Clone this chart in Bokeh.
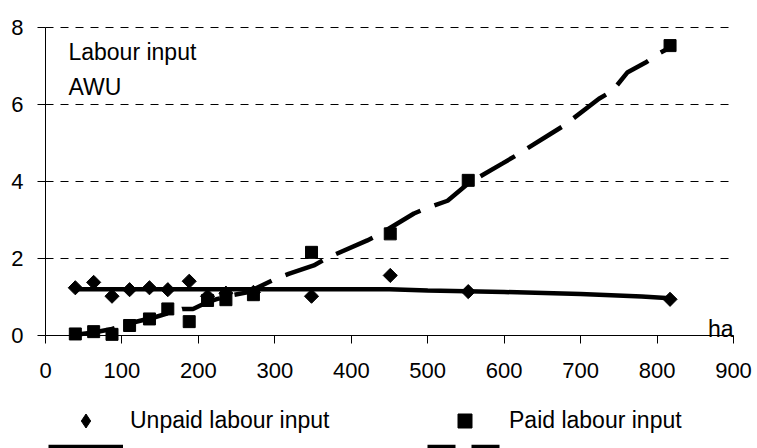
import math
from bokeh.plotting import figure
from bokeh.models import FixedTicker, Legend, LegendItem, Label, Range1d
from bokeh.embed import file_html
from bokeh.resources import INLINE

# ---- data ----
farm_size_ha = [39, 63, 87, 110, 136, 160, 188, 212, 236, 272, 348, 451, 553, 817]
unpaid_awu = [1.24, 1.38, 1.02, 1.19, 1.24, 1.19, 1.41, 1.02, 1.10, 1.12, 1.02, 1.56, 1.14, 0.94]
paid_awu = [0.04, 0.10, 0.03, 0.26, 0.43, 0.69, 0.36, 0.91, 0.93, 1.06, 2.16, 2.64, 4.03, 7.53]

unpaid_trend_x = [39, 150, 300, 450, 500, 600, 700, 780, 817]
unpaid_trend_y = [1.20, 1.20, 1.20, 1.20, 1.17, 1.13, 1.08, 1.01, 0.97]

paid_trend_x = [39, 63, 87, 107, 144, 179, 193, 212, 225, 245, 264, 301, 318, 351, 370, 421,
                438, 482, 500, 526, 553, 598, 615, 661, 678, 724, 742, 761, 785, 802, 817]
paid_trend_y = [0.02, 0.08, 0.17, 0.30, 0.48, 0.69, 0.69, 0.87, 0.95, 1.05, 1.12, 1.47, 1.60, 1.82,
                2.03, 2.47, 2.64, 3.17, 3.32, 3.50, 3.95, 4.47, 4.67, 5.24, 5.45, 6.15, 6.36, 6.83,
                7.09, 7.32, 7.48]

x_ticks = [0, 100, 200, 300, 400, 500, 600, 700, 800, 900]
y_ticks = [0, 2, 4, 6, 8]

FONT = "Liberation Sans"

# Scale: 0..900 ha over 688 px, 0..8 AWU over 308 px. The frame fills the whole
# canvas so that tick labels and the legend (below the axis) are not clipped;
# the axes are pinned at x = 0 / y = 0 and bounded to the data area.
PX_X = 688 / 900
PX_Y = 308 / 8
W, H = 753, 448
LEFT, TOP, BOTTOM = 45, 27, 335

p = figure(width=W, height=H, output_backend="svg", toolbar_location=None,
           x_range=Range1d(x_ticks[0] - LEFT / PX_X, x_ticks[-1] + (W - LEFT - 688) / PX_X),
           y_range=Range1d(y_ticks[0] - (H - BOTTOM) / PX_Y, y_ticks[-1] + TOP / PX_Y),
           min_border_left=0, min_border_right=0, min_border_top=0, min_border_bottom=0)
p.outline_line_color = None
p.background_fill_color = "white"
p.border_fill_color = "white"

for ax in (p.xaxis[0], p.yaxis[0]):
    ax.axis_line_color = "black"
    ax.axis_line_width = 1
    ax.major_tick_line_color = "black"
    ax.major_tick_out = 8
    ax.major_tick_in = 0
    ax.minor_tick_line_color = None
    ax.major_label_text_font = FONT
    ax.major_label_text_font_size = "22px"
    ax.major_label_text_color = "black"
p.xaxis.ticker = FixedTicker(ticks=x_ticks)
p.yaxis.ticker = FixedTicker(ticks=y_ticks)
p.xaxis.fixed_location = y_ticks[0]
p.yaxis.fixed_location = x_ticks[0]
p.xaxis.bounds = (x_ticks[0], x_ticks[-1])
p.yaxis.bounds = (y_ticks[0], y_ticks[-1])
p.xaxis.major_label_standoff = 19
p.yaxis.major_label_standoff = 14

p.xgrid.visible = False
p.ygrid.visible = False
# dashed horizontal gridlines over the data area only
grid_y = y_ticks[1:]
p.segment(x0=[x_ticks[0]] * len(grid_y), x1=[x_ticks[-1]] * len(grid_y), y0=grid_y, y1=grid_y,
          line_color="black", line_width=1, line_dash="8 7")

# trend lines
r_unpaid_trend = p.line(unpaid_trend_x, unpaid_trend_y, line_color="black", line_width=4.5)
r_paid_trend = p.line(paid_trend_x, paid_trend_y, line_color="black", line_width=4.5,
                      line_dash="40 15")

# data points
r_unpaid = p.scatter(farm_size_ha, unpaid_awu, marker="square", angle=math.pi / 4, size=10,
                     fill_color="black", line_color="black")
r_paid = p.scatter(farm_size_ha, paid_awu, marker="square", size=12,
                   fill_color="black", line_color="black")

# hidden renderers that only supply the legend swatches
r_leg_diamond = p.scatter(farm_size_ha, unpaid_awu, marker="diamond", size=14,
                          fill_color="black", line_color="black", visible=False)
r_leg_dash = p.line(paid_trend_x, paid_trend_y, line_color="black", line_width=4.5,
                    line_dash="28 16", visible=False)

lab_style = dict(text_font=FONT, text_font_size="23px", text_color="black",
                 text_baseline="alphabetic")
p.add_layout(Label(x=30, y=7.36, text="Labour input", **lab_style))
p.add_layout(Label(x=30, y=6.45, text="AWU", **lab_style))
p.add_layout(Label(x=900, y=0.17, text="ha", text_align="right", **lab_style))

leg_common = dict(orientation="horizontal", glyph_width=75, label_standoff=7, label_width=297,
                  spacing=0, padding=0, margin=0, border_line_color=None,
                  background_fill_alpha=0, label_text_font=FONT, label_text_font_size="23px",
                  label_text_color="black", label_text_baseline="alphabetic",
                  click_policy="none")

leg1 = Legend(items=[LegendItem(label="Unpaid labour input", renderers=[r_leg_diamond]),
                     LegendItem(label="Paid labour input", renderers=[r_paid])],
              location=(48, 10), glyph_height=35, label_height=35, **leg_common)
leg2 = Legend(items=[LegendItem(label=" ", renderers=[r_unpaid_trend]),
                     LegendItem(label=" ", renderers=[r_leg_dash])],
              location=(48, -12), glyph_height=27, label_height=27, **leg_common)
p.add_layout(leg1)
p.add_layout(leg2)

open("out.html", "w").write(file_html(p, INLINE))
